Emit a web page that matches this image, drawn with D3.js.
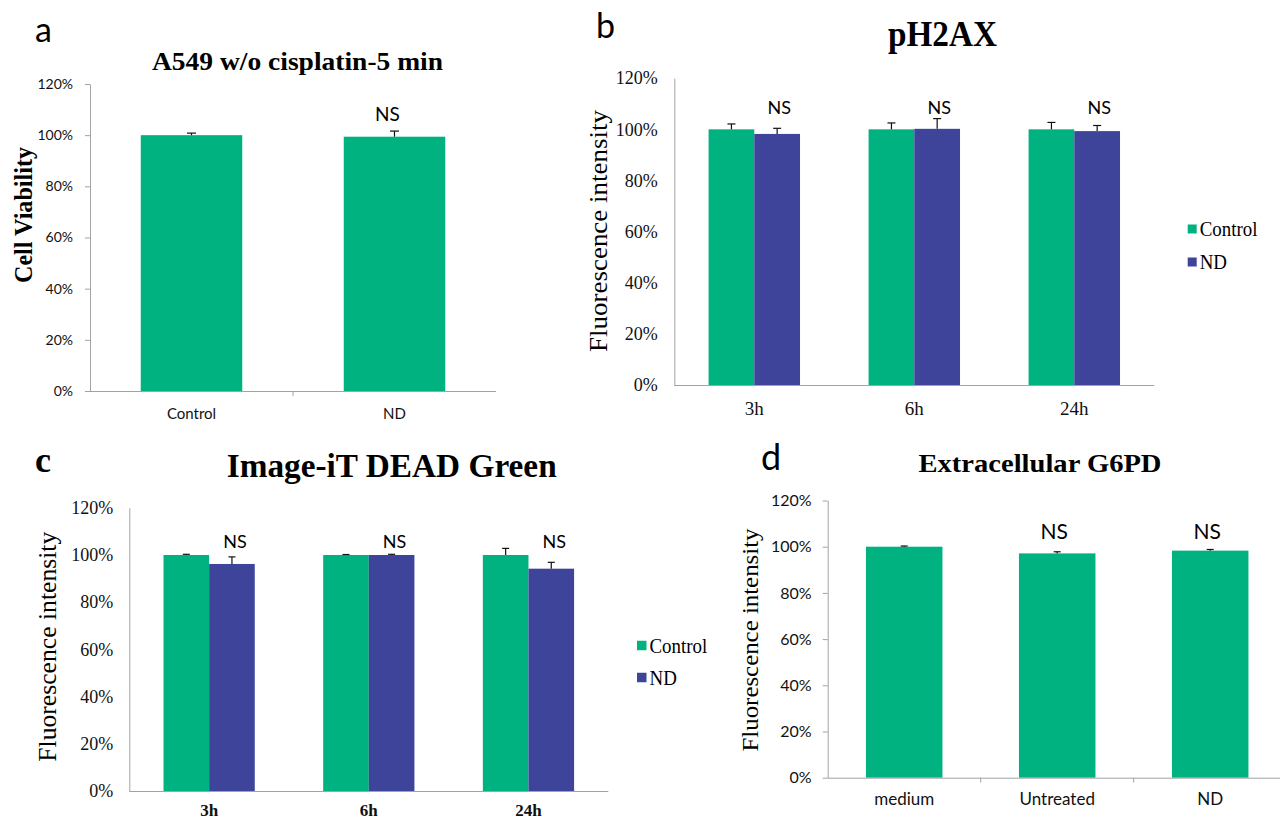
<!DOCTYPE html>
<html>
<head>
<meta charset="utf-8">
<script src="https://cdn.jsdelivr.net/npm/d3@7"></script>
<style>
  body { margin: 0; background: #fff; }
  svg { display: block; }
</style>
</head>
<body>
<div id="chart"></div>
<script>
// ---- data ----
const yTicks = [0, 20, 40, 60, 80, 100, 120];
const seriesNames = ["Control", "ND"];

// a: A549 w/o cisplatin-5 min
const aCategories = ["Control", "ND"];
const aValues = [100, 99.4];
const aErrors = [0.8, 2.2];
const aSig = ["", "NS"];

// b: pH2AX
const bCategories = ["3h", "6h", "24h"];
const bControl = [100, 100, 100];
const bControlErr = [2.1, 2.5, 2.7];
const bND = [98.2, 100.2, 99.3];
const bNDErr = [2.2, 4.0, 2.2];
const bSig = ["NS", "NS", "NS"];

// c: Image-iT DEAD Green
const cCategories = ["3h", "6h", "24h"];
const cControl = [100, 100, 100];
const cControlErr = [0.3, 0.2, 2.8];
const cND = [96.2, 100, 94.2];
const cNDErr = [3.0, 0.3, 2.7];
const cSig = ["NS", "NS", "NS"];

// d: Extracellular G6PD
const dCategories = ["medium", "Untreated", "ND"];
const dValues = [100, 97.1, 98.3];
const dErrors = [0.3, 0.7, 0.5];
const dSig = ["", "NS", "NS"];

const green = "#00b27f";
const blue = "#3d4499";
const axisColor = "#a3a3a3";
const sansFont = "Lato, 'Open Sans', sans-serif";
const serifFont = "'Liberation Serif', 'DejaVu Serif', serif";

const svg = d3.select("#chart").append("svg")
    .attr("width", 1280)
    .attr("height", 822);

function drawPanel(p) {
    const g = svg.append("g");

    const y = d3.scaleLinear().domain([0, 120]).range([p.bottom, p.top]);
    const x0 = d3.scaleBand()
        .domain(p.categories)
        .range([p.left, p.right])
        .paddingInner(p.pad)
        .paddingOuter(p.pad / 2);
    const x1 = d3.scaleBand()
        .domain(p.series.map(s => s.name))
        .range([0, x0.bandwidth()]);

    // bars + error bars (upper half only, as in the figure)
    p.series.forEach(s => {
        const rows = p.categories.map((c, i) => ({ c, v: s.values[i], e: s.errors[i] }));
        const cx = d => x0(d.c) + x1(s.name) + x1.bandwidth() / 2;

        g.append("g").selectAll("rect")
            .data(rows)
            .join("rect")
            .attr("x", d => x0(d.c) + x1(s.name))
            .attr("y", d => y(d.v))
            .attr("width", x1.bandwidth())
            .attr("height", d => y(0) - y(d.v))
            .attr("fill", s.color);

        const err = g.append("g").attr("stroke", "#111").attr("stroke-width", 1.2);
        err.selectAll("line.stem")
            .data(rows)
            .join("line")
            .attr("class", "stem")
            .attr("x1", cx).attr("x2", cx)
            .attr("y1", d => y(d.v)).attr("y2", d => y(d.v + d.e));
        err.selectAll("line.cap")
            .data(rows)
            .join("line")
            .attr("class", "cap")
            .attr("x1", d => cx(d) - p.cap / 2).attr("x2", d => cx(d) + p.cap / 2)
            .attr("y1", d => y(d.v + d.e)).attr("y2", d => y(d.v + d.e));
    });

    // significance labels above the last series
    const last = p.series[p.series.length - 1];
    g.append("g").selectAll("text")
        .data(p.categories.map((c, i) => ({ c, t: p.sig[i] })).filter(d => d.t))
        .join("text")
        .attr("x", d => x0(d.c) + x1(last.name) + x1.bandwidth() / 2 + p.sigDx)
        .attr("y", y(p.sigLevel))
        .attr("text-anchor", "middle")
        .style("font-family", p.sigFont)
        .style("font-size", p.sigSize + "px")
        .text(d => d.t);

    // y axis
    const ya = g.append("g")
        .attr("transform", `translate(${p.left},0)`)
        .call(d3.axisLeft(y)
            .tickValues(yTicks)
            .tickFormat(d => d + "%")
            .tickSize(p.tick)
            .tickSizeOuter(0)
            .tickPadding(p.yPad));
    ya.attr("font-family", null).attr("font-size", null);
    ya.select(".domain").attr("stroke", axisColor);
    ya.selectAll(".tick line").attr("stroke", axisColor);
    ya.selectAll(".tick text")
        .attr("fill", "#111")
        .attr("font-family", p.tickFont)
        .attr("font-size", p.tickFontSize)
        .attr("font-weight", p.tickWeight || "normal");

    // x axis
    const xa = g.append("g")
        .attr("transform", `translate(0,${p.bottom})`)
        .call(d3.axisBottom(x0).tickSize(0).tickSizeOuter(0).tickPadding(p.xPad));
    xa.attr("font-family", null).attr("font-size", null);
    xa.select(".domain").attr("stroke", axisColor).attr("d", `M${p.left},0.5H${p.axisEnd || p.right}`);
    xa.selectAll(".tick text")
        .attr("fill", "#111")
        .attr("font-family", p.xFont)
        .attr("font-size", p.xFontSize)
        .attr("font-weight", p.xWeight || "normal");

    if (p.tick > 0) {
        // tick marks between categories
        xa.append("g").selectAll("line")
            .data(p.categories.slice(1))
            .join("line")
            .attr("x1", d => x0(d) - x0.step() * x0.paddingInner() / 2)
            .attr("x2", d => x0(d) - x0.step() * x0.paddingInner() / 2)
            .attr("y1", 0).attr("y2", p.tick)
            .attr("stroke", axisColor);
    }

    // title
    g.append("text")
        .attr("x", p.titleX).attr("y", p.titleY)
        .attr("text-anchor", "middle")
        .attr("textLength", p.titleLen)
        .attr("lengthAdjust", "spacingAndGlyphs")
        .style("font-family", serifFont)
        .style("font-weight", "bold")
        .style("font-size", p.titleSize + "px")
        .text(p.title);

    // panel letter
    g.append("text")
        .attr("x", p.letterX).attr("y", p.letterY)
        .style("font-family", p.letterFont)
        .style("font-weight", p.letterWeight || "normal")
        .style("font-size", p.letterSize + "px")
        .text(p.letter);

    // y label
    g.append("text")
        .attr("transform", `translate(${p.ylabX},${p.ylabY}) rotate(-90)`)
        .attr("text-anchor", "middle")
        .attr("textLength", p.ylabLen)
        .attr("lengthAdjust", "spacingAndGlyphs")
        .style("font-family", serifFont)
        .style("font-weight", p.ylabWeight || "normal")
        .style("font-size", p.ylabSize + "px")
        .text(p.ylab);

    // legend
    if (p.legendX) {
        const lg = g.append("g").attr("transform", `translate(${p.legendX},${p.legendY})`);
        const item = lg.selectAll("g")
            .data(p.series)
            .join("g")
            .attr("transform", (d, i) => `translate(0,${i * p.legendGap})`);
        item.append("rect")
            .attr("x", 0).attr("y", -p.legendBox / 2)
            .attr("width", p.legendBox).attr("height", p.legendBox)
            .attr("fill", d => d.color);
        item.append("text")
            .attr("x", p.legendBox + 3)
            .attr("dy", "0.35em")
            .attr("transform", "scale(0.9,1)")
            .attr("transform-origin", `${p.legendBox + 3} 0`)
            .style("font-family", serifFont)
            .style("font-size", p.legendSize + "px")
            .text(d => d.name);
    }
}

drawPanel({
    categories: aCategories,
    series: [{ name: "value", values: aValues, errors: aErrors, color: green }],
    sig: aSig, sigLevel: 105.7, sigDx: -7, sigFont: sansFont, sigSize: 19,
    left: 90, right: 496, axisEnd: 496, top: 84, bottom: 391, pad: 0.5, cap: 9,
    tick: 5, yPad: 12, tickFont: sansFont, tickFontSize: 14,
    xPad: 17, xFont: sansFont, xFontSize: 15,
    title: "A549 w/o cisplatin-5 min", titleX: 297.5, titleY: 70, titleSize: 25, titleLen: 291,
    letter: "a", letterX: 35, letterY: 42, letterFont: sansFont, letterSize: 34,
    ylab: "Cell Viability", ylabX: 32, ylabY: 215, ylabSize: 25, ylabLen: 136, ylabWeight: "bold"
});

drawPanel({
    categories: bCategories,
    series: [
        { name: seriesNames[0], values: bControl, errors: bControlErr, color: green },
        { name: seriesNames[1], values: bND, errors: bNDErr, color: blue }
    ],
    sig: bSig, sigLevel: 105.9, sigDx: 2, sigFont: sansFont, sigSize: 18,
    left: 674.3, right: 1154.3, top: 78.2, bottom: 385, pad: 3 / 7, cap: 8,
    tick: 0, yPad: 16.6, tickFont: serifFont, tickFontSize: 18,
    xPad: 17, xFont: serifFont, xFontSize: 19,
    title: "pH2AX", titleX: 942.5, titleY: 46, titleSize: 35, titleLen: 109,
    letter: "b", letterX: 596, letterY: 38, letterFont: sansFont, letterSize: 34,
    ylab: "Fluorescence  intensity", ylabX: 607, ylabY: 231, ylabSize: 25, ylabLen: 242,
    legendX: 1187.7, legendY: 229, legendGap: 33, legendBox: 9, legendSize: 21
});

drawPanel({
    categories: cCategories,
    series: [
        { name: seriesNames[0], values: cControl, errors: cControlErr, color: green },
        { name: seriesNames[1], values: cND, errors: cNDErr, color: blue }
    ],
    sig: cSig, sigLevel: 102.8, sigDx: 3, sigFont: sansFont, sigSize: 18,
    left: 129.3, right: 608.3, top: 507.8, bottom: 791, pad: 3 / 7, cap: 7,
    tick: 0, yPad: 16, tickFont: serifFont, tickFontSize: 18,
    xPad: 13, xFont: serifFont, xFontSize: 17, xWeight: "bold",
    title: "Image-iT DEAD Green", titleX: 391.7, titleY: 476.7, titleSize: 34, titleLen: 330,
    letter: "c", letterX: 35, letterY: 472, letterFont: serifFont, letterWeight: "bold", letterSize: 36,
    ylab: "Fluorescence  intensity", ylabX: 56, ylabY: 646.7, ylabSize: 25, ylabLen: 230,
    legendX: 637, legendY: 645.5, legendGap: 32, legendBox: 9.5, legendSize: 21
});

drawPanel({
    categories: dCategories,
    series: [{ name: "value", values: dValues, errors: dErrors, color: green }],
    sig: dSig, sigLevel: 103.2, sigDx: -3, sigFont: sansFont, sigSize: 21,
    left: 827.7, right: 1286.7, top: 500.5, bottom: 777.7, pad: 0.5, cap: 7,
    tick: 5, yPad: 11, tickFont: sansFont, tickFontSize: 16,
    xPad: 15, xFont: sansFont, xFontSize: 17,
    title: "Extracellular  G6PD", titleX: 1040, titleY: 471.7, titleSize: 26, titleLen: 243,
    letter: "d", letterX: 761, letterY: 469.5, letterFont: sansFont, letterSize: 36,
    ylab: "Fluorescence  intensity", ylabX: 757.5, ylabY: 640, ylabSize: 24, ylabLen: 223
});
</script>
</body>
</html>
